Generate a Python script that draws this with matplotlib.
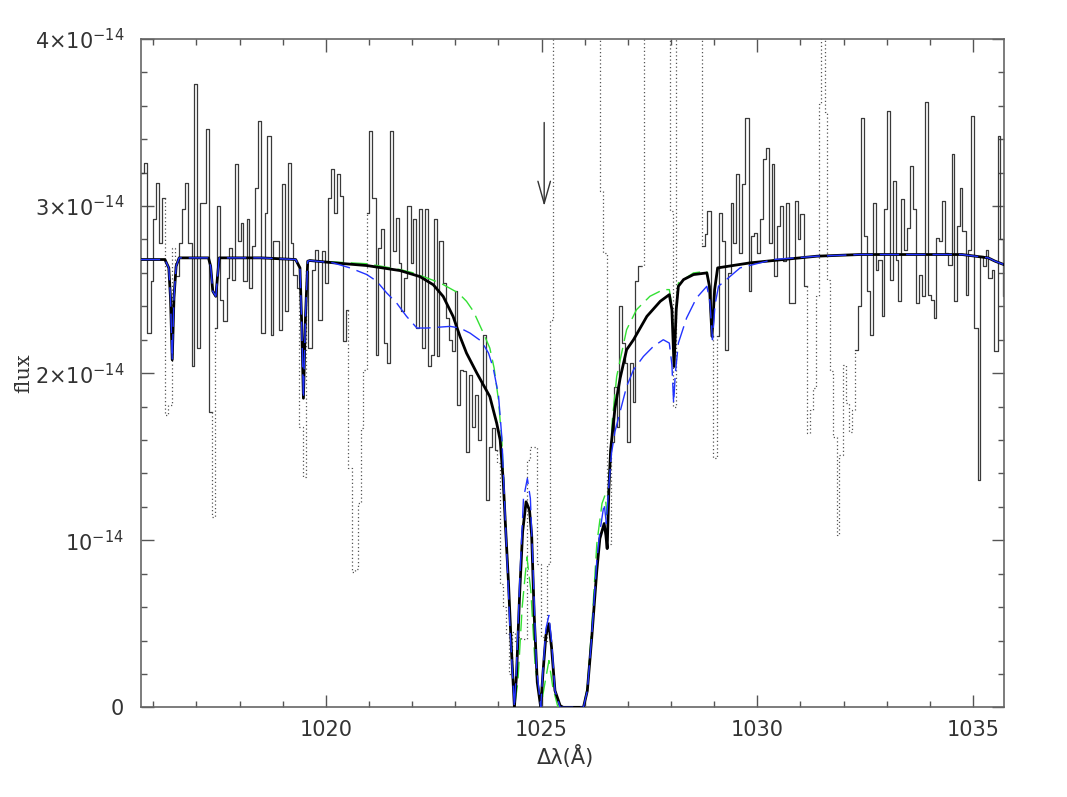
import matplotlib
matplotlib.use("Agg")
import matplotlib.pyplot as plt
import numpy as np
from matplotlib.ticker import MultipleLocator

plt.rcParams['font.family'] = ['DejaVu Sans']
plt.rcParams['mathtext.fontset'] = 'dejavusans'

# observed spectrum, left bin edges (Angstrom) and flux in units of 1e-14
wl_left = [
    1015.70, 1015.787, 1015.864, 1015.941, 1016.003, 1016.065, 1016.134, 1016.204,
    1016.273, 1016.351, 1016.428, 1016.505, 1016.606, 1016.675, 1016.737, 1016.814,
    1016.891, 1016.953, 1017.007, 1017.085, 1017.216, 1017.285, 1017.355, 1017.432,
    1017.486, 1017.548, 1017.625, 1017.702, 1017.764, 1017.826, 1017.903, 1017.973,
    1018.027, 1018.089, 1018.166, 1018.228, 1018.297, 1018.367, 1018.436, 1018.506,
    1018.583, 1018.645, 1018.722, 1018.784, 1018.923, 1018.985, 1019.062, 1019.132,
    1019.186, 1019.247, 1019.325, 1019.386, 1019.464, 1019.533, 1019.595, 1019.672,
    1019.750, 1019.811, 1019.904, 1019.981, 1020.058, 1020.112, 1020.190, 1020.267,
    1020.33, 1020.39, 1020.46, 1020.52, 1020.60, 1020.68, 1020.75, 1020.81,
    1020.87, 1020.95, 1021.01, 1021.08, 1021.16, 1021.22, 1021.27, 1021.35,
    1021.41, 1021.49, 1021.56, 1021.62, 1021.69, 1021.75, 1021.81, 1021.89,
    1021.97, 1022.03, 1022.09, 1022.16, 1022.23, 1022.30, 1022.37, 1022.44,
    1022.50, 1022.57, 1022.63, 1022.71, 1022.78, 1022.85, 1022.92, 1022.99,
    1023.05, 1023.11, 1023.17, 1023.24, 1023.32, 1023.38, 1023.45, 1023.52,
    1023.59, 1023.65, 1023.71, 1023.78, 1023.84, 1023.91,
    1023.975, 1024.04, 1024.11, 1024.18, 1024.25, 1024.32, 1024.39, 1024.46,
    1024.53, 1024.60, 1024.67, 1024.74, 1024.81, 1024.89, 1024.98, 1025.05,
    1025.12, 1025.19, 1025.27, 1026.35, 1026.43, 1026.51,
    1026.60, 1026.68, 1026.74, 1026.80, 1026.86, 1026.93, 1026.99, 1027.05,
    1027.11, 1027.17, 1027.24, 1027.31, 1027.37, 1027.98, 1028.05, 1028.12,
    1028.71, 1028.79, 1028.84, 1028.92, 1028.98, 1029.06, 1029.12, 1029.18,
    1029.24, 1029.32, 1029.38, 1029.44, 1029.51, 1029.58, 1029.65, 1029.72,
    1029.80, 1029.86, 1029.92, 1030.00, 1030.06, 1030.12, 1030.19, 1030.26,
    1030.33, 1030.39, 1030.46, 1030.53, 1030.60, 1030.67, 1030.73, 1030.80,
    1030.88, 1030.94, 1031.00, 1031.08, 1031.14, 1031.22, 1031.30, 1031.36,
    1031.42, 1031.48, 1031.56, 1031.61, 1031.69, 1031.76, 1031.84, 1031.90,
    1031.98, 1032.06, 1032.13, 1032.20,
    1032.264, 1032.341, 1032.403, 1032.48, 1032.542, 1032.611, 1032.681, 1032.743,
    1032.805, 1032.882, 1032.944, 1033.005, 1033.075, 1033.152, 1033.222, 1033.268,
    1033.33, 1033.399, 1033.469, 1033.531, 1033.616, 1033.685, 1033.747, 1033.824,
    1033.886, 1033.963, 1034.025, 1034.087, 1034.149, 1034.211, 1034.288, 1034.35,
    1034.427, 1034.504, 1034.566, 1034.628, 1034.689, 1034.751, 1034.828, 1034.89,
    1034.952, 1035.03, 1035.107, 1035.168, 1035.23, 1035.292, 1035.354, 1035.431,
    1035.493, 1035.57, 1035.632, 1035.695,
]
wl_last_edge = 1035.76

flux_obs = [
    3.20, 3.26, 2.24, 2.55, 2.92, 3.14, 2.78, 3.05,
    1.75, 1.81, 2.75, 2.58, 2.78, 2.98, 3.14, 2.78,
    2.04, 3.73, 2.15, 3.02, 3.46, 1.77, 1.14, 2.27,
    3.00, 2.44, 2.31, 2.57, 2.75, 2.56, 3.25, 2.79,
    2.90, 2.55, 2.92, 2.51, 2.76, 3.11, 3.51, 2.24,
    2.96, 3.42, 2.23, 2.79, 2.26, 3.13, 2.37, 3.26,
    2.78, 2.59, 2.51, 1.68, 1.38, 2.61, 2.15, 2.62,
    2.74, 2.32, 2.73, 2.54, 3.05, 3.22, 2.96, 3.19,
    3.06, 2.19, 2.38, 1.43, 0.81, 0.83, 1.22, 1.67,
    2.02, 2.96, 3.45, 3.05, 2.11, 2.75, 2.86, 2.18,
    2.06, 3.45, 2.73, 2.93, 2.66, 2.37, 2.57, 3.00,
    2.66, 2.92, 2.27, 2.98, 2.15, 2.98, 2.04, 2.11,
    2.92, 2.10, 2.79, 2.54, 2.33, 2.20, 2.13, 2.49,
    1.81, 2.02, 2.01, 1.53, 1.99, 1.68, 1.87, 1.60,
    1.95, 2.23, 1.24, 1.56, 1.67, 1.54,
    1.46, 0.74, 0.60, 0.44, 0.20, 0.45, 0.40, 0.42,
    0.41, 0.41, 1.48, 1.56, 1.56, 0.86, 0.42, 0.40,
    0.86, 2.32, 6.00, 3.09, 2.72, 0.98,
    1.59, 1.92, 1.68, 2.40, 2.18, 2.06, 1.59, 2.06,
    1.83, 2.55, 2.64, 2.64, 6.00, 2.97, 1.80, 6.00,
    2.76, 2.83, 2.97, 2.22, 1.49, 2.22, 2.96, 2.79,
    2.14, 2.60, 3.02, 2.78, 3.19, 2.72, 3.13, 3.53,
    2.49, 2.82, 2.84, 2.72, 2.92, 3.28, 3.35, 2.78,
    3.25, 2.58, 2.88, 3.00, 2.67, 3.02, 2.42, 2.42,
    3.03, 2.80, 2.95, 2.52, 1.64, 1.78, 1.91, 2.46,
    3.61, 6.00, 3.56, 2.56, 2.01, 1.62, 1.03, 1.51,
    2.05, 1.82, 1.65, 1.78,
    2.14, 2.40, 3.53, 2.82, 2.49, 2.23, 3.02, 2.62,
    2.68, 2.34, 2.98, 3.57, 2.56, 3.15, 2.68, 2.43,
    3.04, 2.74, 2.87, 3.24, 2.98, 2.42, 2.59, 2.46,
    3.62, 2.47, 2.44, 2.33, 2.81, 2.79, 3.03, 2.72,
    2.65, 3.31, 2.43, 2.88, 3.11, 2.85, 2.47, 2.74,
    3.54, 2.27, 1.36, 2.70, 2.64, 2.74, 2.57, 2.62,
    2.13, 3.42, 2.80, 2.46,
]

# wavelength ranges left out of the fit (drawn dotted)
excluded = [(1016.27, 1016.50), (1017.35, 1017.43), (1019.38, 1019.53),
            (1020.52, 1020.95), (1023.97, 1026.60), (1027.30, 1028.71),
            (1028.98, 1029.06), (1031.14, 1032.26)]

# shared continuum pieces of the models
left_wl = [1015.71, 1016.27, 1016.36, 1016.40, 1016.44, 1016.48, 1016.53, 1016.60,
           1017.28, 1017.33, 1017.38, 1017.45, 1017.49, 1017.53, 1018.50, 1019.30,
           1019.40, 1019.44, 1019.48, 1019.53, 1019.58, 1019.63]
left_flux = [2.68, 2.68, 2.63, 2.45, 2.08, 2.45, 2.64, 2.69,
             2.69, 2.64, 2.49, 2.46, 2.58, 2.69, 2.69, 2.68,
             2.63, 2.30, 1.85, 2.35, 2.67, 2.674]
right_wl = [1031.38, 1032.38, 1033.19, 1034.74, 1035.05, 1035.35, 1035.51, 1035.71]
right_flux = [2.70, 2.71, 2.71, 2.71, 2.70, 2.69, 2.67, 2.65]

black_mid_wl = [1020.20, 1020.95, 1021.72, 1022.18, 1022.49, 1022.72, 1022.95, 1023.11,
                1023.26, 1023.50, 1023.80, 1023.96, 1024.04, 1024.11, 1024.17, 1024.23,
                1024.30, 1024.37, 1024.42, 1024.49, 1024.56, 1024.64, 1024.72, 1024.77,
                1024.83, 1024.90, 1024.98, 1025.03, 1025.10, 1025.17, 1025.23, 1025.31,
                1025.43, 1025.50, 1025.97, 1026.06, 1026.16, 1026.28, 1026.35, 1026.45,
                1026.49, 1026.52, 1026.56, 1026.60, 1026.70, 1026.82, 1026.97, 1027.13,
                1027.44, 1027.75, 1027.96, 1028.02, 1028.07, 1028.12, 1028.17, 1028.29,
                1028.52, 1028.83, 1028.89, 1028.95, 1029.01, 1029.08, 1029.83, 1030.60]
black_mid_flux = [2.66, 2.644, 2.614, 2.578, 2.529, 2.459, 2.339, 2.219,
                  2.12, 2.00, 1.86, 1.70, 1.60, 1.36, 1.05, 0.76,
                  0.35, 0.0, 0.20, 0.67, 1.05, 1.23, 1.18, 1.03,
                  0.54, 0.15, 0.0, 0.20, 0.43, 0.50, 0.36, 0.10,
                  0.01, 0.0, 0.0, 0.10, 0.41, 0.82, 1.01, 1.10,
                  1.03, 0.95, 1.31, 1.54, 1.79, 1.97, 2.14, 2.20,
                  2.34, 2.43, 2.47, 2.38, 2.04, 2.38, 2.52, 2.56,
                  2.59, 2.60, 2.52, 2.22, 2.50, 2.63, 2.66, 2.68]

blue_mid_wl = [1020.17, 1020.56, 1020.95, 1021.18, 1021.41, 1021.64, 1021.87, 1022.11,
               1022.34, 1022.88, 1023.11, 1023.34, 1023.61, 1023.77, 1023.88, 1024.00,
               1024.08, 1024.15, 1024.27, 1024.37, 1024.42, 1024.50, 1024.58, 1024.67,
               1024.74, 1024.80, 1024.88, 1024.98, 1025.03, 1025.10, 1025.17, 1025.23,
               1025.31, 1025.43, 1025.97, 1026.06, 1026.16, 1026.28, 1026.35, 1026.45,
               1026.50, 1026.55, 1026.62, 1026.70, 1026.82, 1026.97, 1027.13, 1027.36,
               1027.59, 1027.82, 1027.96, 1028.02, 1028.06, 1028.10, 1028.17, 1028.36,
               1028.59, 1028.83, 1028.90, 1028.96, 1029.02, 1029.10, 1029.60, 1030.37]
blue_mid_flux = [2.66, 2.63, 2.59, 2.55, 2.48, 2.42, 2.34, 2.27,
                 2.27, 2.28, 2.27, 2.24, 2.19, 2.12, 2.03, 1.87,
                 1.61, 1.18, 0.46, 0.0, 0.25, 0.80, 1.25, 1.37,
                 1.25, 0.85, 0.25, 0.0, 0.22, 0.47, 0.55, 0.40,
                 0.10, 0.0, 0.0, 0.10, 0.42, 0.88, 1.05, 1.22,
                 1.10, 1.30, 1.52, 1.65, 1.77, 1.92, 2.02, 2.10,
                 2.16, 2.20, 2.18, 2.05, 1.82, 2.00, 2.18, 2.33,
                 2.45, 2.52, 2.43, 2.20, 2.41, 2.52, 2.63, 2.68]

green_mid_wl = [1020.20, 1020.95, 1021.72, 1022.03, 1022.65, 1023.07, 1023.26, 1023.42,
                1023.65, 1023.80, 1023.90, 1024.00, 1024.08, 1024.15, 1024.27, 1024.37,
                1024.45, 1024.55, 1024.66, 1024.75, 1024.85, 1024.98, 1025.06, 1025.17,
                1025.26, 1025.38, 1025.97, 1026.06, 1026.16, 1026.28, 1026.40, 1026.47,
                1026.52, 1026.57, 1026.64, 1026.74, 1026.97, 1027.20, 1027.51, 1027.82,
                1027.96, 1028.02, 1028.07, 1028.12, 1028.17, 1028.52, 1028.83, 1028.89,
                1028.95, 1029.01, 1029.08, 1029.83, 1030.60]
green_mid_flux = [2.665, 2.655, 2.62, 2.60, 2.54, 2.48, 2.43, 2.37,
                  2.24, 2.15, 2.03, 1.84, 1.59, 1.20, 0.54, 0.0,
                  0.15, 0.60, 0.90, 0.70, 0.25, 0.0, 0.12, 0.28,
                  0.12, 0.0, 0.0, 0.12, 0.47, 0.98, 1.22, 1.27,
                  1.15, 1.40, 1.72, 1.98, 2.26, 2.38, 2.46, 2.50,
                  2.50, 2.40, 2.06, 2.40, 2.54, 2.60, 2.61, 2.52,
                  2.22, 2.50, 2.63, 2.66, 2.68]

arrow_wl = 1025.06
arrow_from, arrow_to = 3.50, 3.00

ytick_vals = [0, 1, 2, 3, 4]
ytick_text = ['0', r'$10^{-14}$', r'$2{\times}10^{-14}$', r'$3{\times}10^{-14}$',
              r'$4{\times}10^{-14}$']
xtick_vals = [1020, 1025, 1030, 1035]


def is_excluded(w):
    return any(lo <= w < hi for lo, hi in excluded)


def draw_spectrum(ax, edges, vals):
    n = len(vals)
    mids = [(edges[i] + edges[i + 1]) / 2 for i in range(n)]
    dotted = [is_excluded(m) for m in mids]
    i = 0
    while i < n:
        j = i
        while j + 1 < n and dotted[j + 1] == dotted[i]:
            j += 1
        xs, ys = [], []
        if dotted[i] and i > 0:
            xs.append(edges[i]); ys.append(vals[i - 1])
        for k in range(i, j + 1):
            xs += [edges[k], edges[k + 1]]
            ys += [vals[k], vals[k]]
        if dotted[i] and j < n - 1:
            xs.append(edges[j + 1]); ys.append(vals[j + 1])
        if dotted[i]:
            ax.plot(xs, ys, color='#555555', lw=0.9, ls=(0, (1, 2)), zorder=2)
        else:
            ax.plot(xs, ys, color='#3a3a3a', lw=0.9, zorder=2)
        i = j + 1


fig = plt.figure(figsize=(10.67, 7.97), dpi=100)
ax = fig.add_axes([0.1319, 0.1125, 0.8088, 0.8386])

edges = np.array(wl_left + [wl_last_edge])
draw_spectrum(ax, edges, np.array(flux_obs))

black_wl = left_wl + black_mid_wl + right_wl
black_fl = left_flux + black_mid_flux + right_flux
blue_wl = left_wl + blue_mid_wl + right_wl
blue_fl = left_flux + blue_mid_flux + right_flux
green_wl = left_wl + green_mid_wl + right_wl
green_fl = left_flux + green_mid_flux + right_flux

ax.plot(green_wl, green_fl, color='#33e033', lw=1.0, dashes=(12, 5), zorder=3)
ax.plot(black_wl, black_fl, color='black', lw=2.0, zorder=4)
ax.plot(blue_wl, blue_fl, color='#2233ff', lw=1.0, dashes=(14, 5), zorder=5)

ax.annotate('', xy=(arrow_wl, arrow_to), xytext=(arrow_wl, arrow_from),
            arrowprops=dict(arrowstyle='->,head_length=1.6,head_width=0.45',
                            color='#333333', lw=1.0, mutation_scale=10,
                            shrinkA=0, shrinkB=0), zorder=6)

ax.set_xlim(1015.71, 1035.71)
ax.set_ylim(0, 4)
ax.set_xticks(xtick_vals)
ax.xaxis.set_minor_locator(MultipleLocator(1))
ax.set_yticks(ytick_vals)
ax.set_yticklabels(ytick_text)
ax.yaxis.set_minor_locator(MultipleLocator(0.2))

ax.tick_params(which='both', direction='in', top=True, right=True,
               color='#555555', width=1.0)
ax.tick_params(which='major', length=9, labelsize=15, labelcolor='#333333', pad=9)
ax.tick_params(axis='y', which='major', pad=12)
ax.tick_params(which='minor', length=4.5)
for sp in ax.spines.values():
    sp.set_color('#666666')
    sp.set_linewidth(1.2)

ax.set_xlabel('Δλ(Å)', fontsize=15, color='#333333')
ax.xaxis.set_label_coords(0.492, -0.074)
ax.xaxis.label.set_va('center')
ax.set_ylabel('flux', fontsize=15, color='#333333', family='DejaVu Serif')
ax.yaxis.set_label_coords(-0.136, 0.5)
ax.yaxis.label.set_va('center')

fig.savefig('out.png', dpi=100)
